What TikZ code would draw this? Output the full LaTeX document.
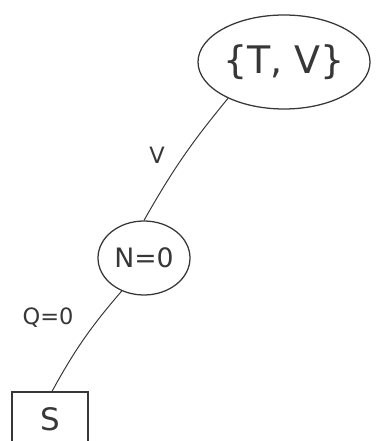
\documentclass[tikz,border=0pt]{standalone}
\usepackage{fontspec}
\setmainfont{DejaVu Sans}
\usetikzlibrary{shapes.geometric, positioning}
\definecolor{pencil}{RGB}{55,55,55}

\begin{document}
\begin{tikzpicture}[
        every node/.style={text=pencil},
        setnode/.style={draw=pencil, ellipse, line width=0.9pt, minimum width=4.3cm, minimum height=2.35cm, inner sep=0pt},
        testnode/.style={draw=pencil, ellipse, line width=0.9pt, minimum width=2.3cm, minimum height=1.85cm, inner sep=0pt},
        leafnode/.style={draw=pencil, rectangle, line width=0.9pt, minimum width=1.9cm, minimum height=1.35cm, inner sep=0pt},
        branch/.style={draw=pencil, line width=0.7pt},
        lbl/.style={font=\fontsize{16}{18}\selectfont}
    ]
    \useasboundingbox (0,0) rectangle (9.375,11.025);

    % root and its branch
    \node[setnode, font=\fontsize{27}{30}\selectfont] (root) at (7.1, 9.475) {\{T, V\}};
    \node[testnode, font=\fontsize{19}{21}\selectfont] (test) at (3.6, 4.575) {N=0};
    \draw[branch] (root.213) to[bend right=5] (test.north);
    \node[lbl] (vlabel) at (3.925, 7.15) {V};

    % leaf
    \node[leafnode, font=\fontsize{22}{24}\selectfont] (leaf) at (1.25, 0.55) {S};
    \draw[branch] (test.236) to[bend right=6] ([xshift=0.05cm]leaf.north);
    \node[lbl] (qlabel) at (1.2, 3.075) {Q=0};
\end{tikzpicture}
\end{document}
